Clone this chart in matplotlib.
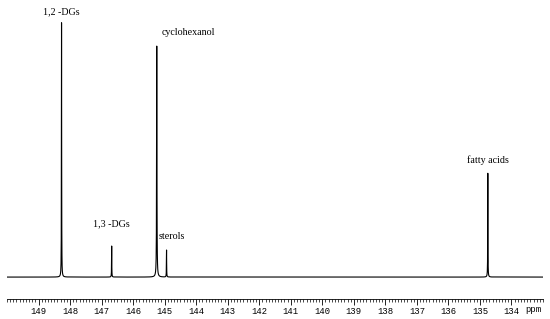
import numpy as np
import matplotlib.pyplot as plt
from matplotlib.ticker import MultipleLocator
import matplotlib.transforms as mtransforms

# Peak list (ppm, relative intensity)
peak_ppm = [148.27, 146.68, 145.25, 144.94, 134.75]
peak_height = [100.0, 12.2, 90.6, 10.6, 40.8]
peak_width = [0.004, 0.004, 0.006, 0.004, 0.004]

labels = ["1,2 -DGs", "1,3 -DGs", "cyclohexanol", "sterols", "fatty acids"]
label_ppm = [148.27, 146.68, 144.25, 145.19, 134.75]
label_y = [104, 21, 96, 16, 46]
label_ha = ["center", "center", "center", "left", "center"]

# Build spectrum as a sum of Lorentzian lines on a fine ppm grid
ppm = np.linspace(133, 150, 40000)
spec = np.zeros_like(ppm)
for p, h, w in zip(peak_ppm, peak_height, peak_width):
    spec += h * w**2 / ((ppm - p)**2 + w**2)

fig = plt.figure(figsize=(5.5, 3.19), dpi=100)
ax = fig.add_axes([7/550, 1 - 299/319, 536/550, 294/319])

ax.plot(ppm, spec, color='black', lw=0.8)

for t, x, y, ha in zip(labels, label_ppm, label_y, label_ha):
    ax.text(x, y, t, ha=ha, va='center', fontsize=7.2,
            family='Liberation Serif')

ax.set_xlim(150, 133)
ax.set_ylim(-8.6, 106.7)

for s in ['top', 'left', 'right']:
    ax.spines[s].set_visible(False)
ax.spines['bottom'].set_linewidth(0.6)
ax.set_yticks([])

ax.xaxis.set_minor_locator(MultipleLocator(0.1))
ax.set_xticks(np.arange(134, 150))
ax.tick_params(axis='x', which='major', length=4, width=0.6, pad=2,
               labelsize=6.4, labelfontfamily='Liberation Mono')
ax.tick_params(axis='x', which='minor', length=2, width=0.5)

trans = mtransforms.blended_transform_factory(ax.transData, ax.transAxes)
ax.text(133.32, -11/294, "ppm", transform=trans, ha='center', va='center',
        fontsize=6.4, family='Liberation Mono')

fig.savefig('out.png', dpi=100)
